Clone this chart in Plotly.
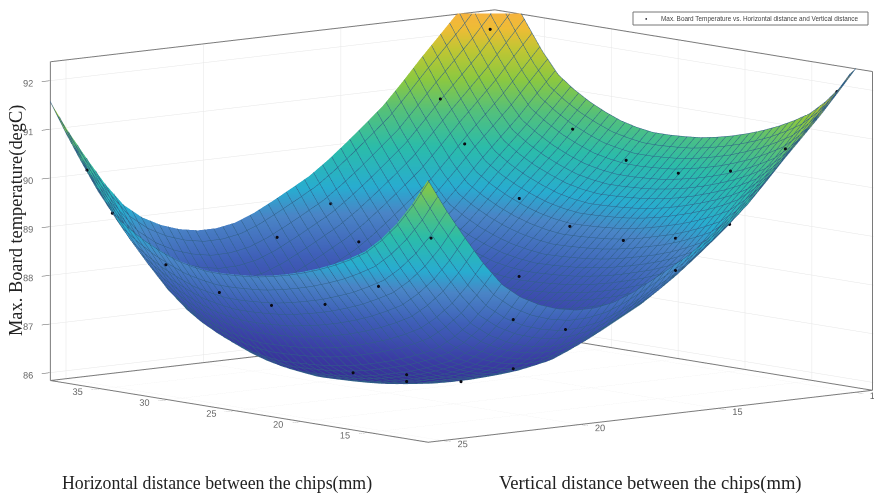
import plotly.graph_objects as go

horizontal_mm = [10.40, 11.58, 12.76, 13.94, 15.12, 16.30, 17.48, 18.65, 19.83, 21.01, 22.19, 23.37, 24.55,
                 25.73, 26.91, 28.09, 29.27, 30.45, 31.63, 32.80, 33.98, 35.16, 36.34, 37.52, 38.70]
vertical_mm = [25.60, 24.93, 24.25, 23.58, 22.90, 22.23, 21.55, 20.88, 20.20, 19.53, 18.85, 18.18, 17.50,
               16.83, 16.15, 15.48, 14.80, 14.13, 13.45, 12.78, 12.10, 11.43, 10.75, 10.08, 9.40]
# rows follow horizontal_mm, columns follow vertical_mm
board_temp = [
    [91.23, 90.56, 89.95, 89.38, 88.90, 88.60, 88.40, 88.27, 88.20, 88.20, 88.27, 88.42, 88.62, 88.83, 89.05, 89.33, 89.65, 89.98, 90.33, 90.75, 91.20, 91.62, 92.05, 92.52, 93.00],
    [90.68, 90.02, 89.43, 88.87, 88.40, 88.11, 87.91, 87.79, 87.72, 87.73, 87.80, 87.95, 88.15, 88.36, 88.58, 88.86, 89.17, 89.50, 89.84, 90.26, 90.70, 91.11, 91.53, 91.98, 92.45],
    [90.22, 89.58, 88.99, 88.44, 87.98, 87.70, 87.51, 87.39, 87.33, 87.34, 87.42, 87.57, 87.77, 87.98, 88.20, 88.47, 88.78, 89.10, 89.44, 89.85, 90.28, 90.68, 91.09, 91.54, 91.99],
    [89.85, 89.22, 88.64, 88.10, 87.65, 87.37, 87.19, 87.08, 87.02, 87.03, 87.11, 87.27, 87.47, 87.68, 87.89, 88.16, 88.47, 88.79, 89.12, 89.52, 89.95, 90.34, 90.74, 91.18, 91.62],
    [89.55, 88.93, 88.36, 87.83, 87.38, 87.11, 86.94, 86.83, 86.78, 86.79, 86.87, 87.03, 87.23, 87.44, 87.65, 87.92, 88.23, 88.54, 88.87, 89.26, 89.68, 90.07, 90.46, 90.89, 91.32],
    [89.35, 88.74, 88.18, 87.65, 87.21, 86.95, 86.78, 86.67, 86.63, 86.64, 86.72, 86.88, 87.08, 87.29, 87.50, 87.77, 88.08, 88.38, 88.71, 89.10, 89.51, 89.89, 90.28, 90.70, 91.12],
    [89.18, 88.57, 88.02, 87.50, 87.07, 86.81, 86.64, 86.54, 86.50, 86.52, 86.60, 86.76, 86.96, 87.17, 87.38, 87.65, 87.95, 88.25, 88.57, 88.96, 89.37, 89.74, 90.12, 90.53, 90.95],
    [89.04, 88.44, 87.89, 87.38, 86.95, 86.69, 86.53, 86.44, 86.39, 86.41, 86.50, 86.66, 86.86, 87.07, 87.28, 87.54, 87.84, 88.15, 88.46, 88.84, 89.25, 89.62, 89.99, 90.40, 90.81],
    [88.92, 88.32, 87.78, 87.27, 86.85, 86.60, 86.44, 86.34, 86.30, 86.32, 86.41, 86.57, 86.77, 86.98, 87.19, 87.45, 87.75, 88.05, 88.37, 88.75, 89.15, 89.51, 89.88, 90.28, 90.69],
    [88.82, 88.23, 87.69, 87.18, 86.76, 86.51, 86.36, 86.26, 86.22, 86.25, 86.33, 86.50, 86.70, 86.91, 87.11, 87.38, 87.67, 87.97, 88.29, 88.66, 89.06, 89.42, 89.79, 90.19, 90.59],
    [88.74, 88.15, 87.62, 87.11, 86.69, 86.44, 86.29, 86.20, 86.16, 86.18, 86.27, 86.43, 86.64, 86.84, 87.05, 87.31, 87.61, 87.91, 88.22, 88.59, 88.99, 89.35, 89.72, 90.11, 90.51],
    [88.68, 88.09, 87.56, 87.06, 86.64, 86.39, 86.24, 86.15, 86.11, 86.13, 86.22, 86.38, 86.59, 86.79, 87.00, 87.26, 87.56, 87.86, 88.17, 88.54, 88.94, 89.30, 89.66, 90.05, 90.45],
    [88.65, 88.06, 87.53, 87.03, 86.61, 86.36, 86.21, 86.12, 86.08, 86.11, 86.20, 86.36, 86.56, 86.77, 86.98, 87.24, 87.53, 87.83, 88.14, 88.51, 88.91, 89.27, 89.63, 90.02, 90.42],
    [88.63, 88.04, 87.51, 87.01, 86.59, 86.34, 86.19, 86.10, 86.06, 86.08, 86.17, 86.33, 86.54, 86.74, 86.95, 87.21, 87.51, 87.81, 88.12, 88.49, 88.89, 89.25, 89.61, 90.00, 90.40],
    [88.63, 88.04, 87.51, 87.00, 86.58, 86.33, 86.18, 86.09, 86.05, 86.07, 86.16, 86.32, 86.53, 86.73, 86.94, 87.20, 87.50, 87.80, 88.11, 88.48, 88.88, 89.24, 89.61, 90.00, 90.40],
    [88.68, 88.09, 87.55, 87.04, 86.62, 86.37, 86.22, 86.12, 86.08, 86.11, 86.19, 86.36, 86.56, 86.77, 86.97, 87.24, 87.53, 87.83, 88.15, 88.52, 88.92, 89.28, 89.65, 90.05, 90.45],
    [88.76, 88.16, 87.62, 87.11, 86.69, 86.44, 86.28, 86.18, 86.14, 86.16, 86.25, 86.41, 86.61, 86.82, 87.03, 87.29, 87.59, 87.89, 88.21, 88.59, 88.99, 89.35, 89.72, 90.12, 90.53],
    [88.89, 88.29, 87.74, 87.23, 86.80, 86.54, 86.38, 86.29, 86.24, 86.26, 86.35, 86.51, 86.71, 86.92, 87.13, 87.39, 87.69, 88.00, 88.31, 88.69, 89.10, 89.47, 89.84, 90.25, 90.66],
    [89.05, 88.44, 87.89, 87.37, 86.94, 86.68, 86.51, 86.41, 86.37, 86.39, 86.47, 86.63, 86.83, 87.04, 87.25, 87.52, 87.82, 88.12, 88.44, 88.83, 89.24, 89.61, 89.99, 90.40, 90.82],
    [89.25, 88.64, 88.08, 87.55, 87.11, 86.85, 86.68, 86.57, 86.53, 86.54, 86.62, 86.78, 86.98, 87.19, 87.40, 87.67, 87.98, 88.28, 88.61, 89.00, 89.41, 89.79, 90.18, 90.60, 91.02],
    [89.50, 88.88, 88.31, 87.78, 87.33, 87.06, 86.89, 86.78, 86.73, 86.74, 86.82, 86.98, 87.18, 87.39, 87.60, 87.87, 88.18, 88.49, 88.82, 89.21, 89.63, 90.02, 90.41, 90.84, 91.27],
    [89.93, 89.30, 88.72, 88.18, 87.73, 87.45, 87.27, 87.16, 87.10, 87.11, 87.19, 87.35, 87.55, 87.76, 87.97, 88.24, 88.55, 88.87, 89.20, 89.60, 90.03, 90.42, 90.82, 91.26, 91.70],
    [90.45, 89.80, 89.22, 88.67, 88.21, 87.93, 87.74, 87.62, 87.56, 87.57, 87.65, 87.80, 88.00, 88.21, 88.43, 88.70, 89.01, 89.33, 89.67, 90.08, 90.51, 90.91, 91.32, 91.77, 92.22],
    [91.00, 90.34, 89.75, 89.19, 88.72, 88.43, 88.23, 88.11, 88.04, 88.05, 88.12, 88.27, 88.47, 88.68, 88.90, 89.18, 89.49, 89.82, 90.16, 90.58, 91.02, 91.43, 91.85, 92.30, 92.77],
    [91.60, 90.93, 90.32, 89.75, 89.27, 88.97, 88.77, 88.64, 88.57, 88.57, 88.64, 88.79, 88.99, 89.20, 89.42, 89.70, 90.02, 90.35, 90.70, 91.12, 91.57, 91.99, 92.42, 92.89, 93.37],
]

dots_horizontal = [11.9, 13.7, 17.8, 21.7, 25.6, 29.6, 11.9, 17.8, 21.7, 25.7, 30.3, 35.0, 37.0, 36.2, 37.0, 37.1, 34.9,
                   11.2, 14.1, 18.1, 22.1, 26.0, 30.0, 34.0, 35.9, 16.0, 12.0, 12.0, 10.4, 10.4, 10.4, 10.4, 10.4, 26.0]
dots_vertical = [10.0, 11.0, 11.0, 11.0, 11.0, 11.0, 13.9, 13.0, 13.0, 13.0, 12.6, 12.3, 10.4, 12.6, 16.2, 18.1, 16.2,
                 25.1, 25.6, 25.6, 25.6, 25.6, 25.6, 25.6, 25.6, 25.6, 25.6, 25.6, 24.4, 22.5, 20.6, 16.6, 22.5, 14.7]
dots_temp = [91.95, 90.76, 90.12, 89.90, 89.99, 90.45, 89.48, 88.87, 88.65, 88.76, 89.10, 89.99, 92.13, 90.88, 88.93, 88.36, 88.24,
             89.97, 88.88, 88.33, 88.13, 88.22, 88.61, 89.49, 90.29, 87.02, 87.16, 87.02, 87.01, 87.15, 87.83, 88.78, 88.16, 87.83]

x_range = [10.4, 38.7]
y_range = [9.4, 25.6]
z_range = [85.83, 92.4]
x_ticks = [15, 20, 25, 30, 35]
y_ticks = [10, 15, 20, 25]
z_ticks = [86, 87, 88, 89, 90, 91, 92]

title_x = "Horizontal distance between the chips(mm)"
title_y = "Vertical distance between the chips(mm)"
title_z = "Max. Board temperature(degC)"
legend_name = "Max. Board Temperature vs. Horizontal distance and Vertical distance"

parula = [[0.0, "#35288e"], [0.16, "#3a3ba3"], [0.31, "#3f5fb8"], [0.42, "#4a85c6"], [0.49, "#28acd0"], [0.6, "#2bbcaa"],
          [0.7, "#55c07a"], [0.79, "#8cc840"], [0.87, "#c0c633"], [0.93, "#eebc35"], [1.0, "#fbae45"]]

def px(sx):
    return sx / 874

def py(sy):
    return 1 - sy / 494

fig = go.Figure()
fig.add_trace(go.Surface(
    x=horizontal_mm, y=vertical_mm, z=[list(c) for c in zip(*board_temp)],
    colorscale=parula, cmin=85.9, cmax=92.6, showscale=False,
    lighting=dict(ambient=1, diffuse=0, specular=0, roughness=1, fresnel=0),
    contours=dict(
        x=dict(show=True, start=x_range[0], end=x_range[1], size=0.58, color="#2f5f86", width=1),
        y=dict(show=True, start=y_range[0], end=y_range[1], size=0.33, color="#2f5f86", width=1),
    ),
    showlegend=False, hoverinfo="skip",
))
fig.add_trace(go.Scatter3d(
    x=dots_horizontal, y=dots_vertical, z=dots_temp, mode="markers",
    marker=dict(size=1.8, color="#0a0a14"), name=legend_name, showlegend=False,
))
# box edges, kept just inside the axis bounds so they are not clipped
xa, xb = x_range[0] + 0.03, x_range[1] - 0.03
ya, yb = y_range[0] + 0.02, y_range[1] - 0.02
za, zb = z_range[0] + 0.01, z_range[1] - 0.01
edges_x = [xa, xb, xb, None, xb, xb, None, xa, xa, None, xb, xa, xa, xb, xb]
edges_y = [ya, ya, yb, None, yb, yb, None, ya, ya, None, yb, yb, ya, ya, yb]
edges_z = [zb, zb, zb, None, za, zb, None, za, zb, None, za, za, za, za, za]
fig.add_trace(go.Scatter3d(
    x=edges_x, y=edges_y, z=edges_z, mode="lines",
    line=dict(color="#7a7a7a", width=2), showlegend=False, hoverinfo="skip",
))

axis_common = dict(
    showbackground=False, showline=False, zeroline=False, showspikes=False, title=dict(text=""),
    gridcolor="#e6e6e6", gridwidth=1, ticks="outside", ticklen=10, tickcolor="#555555", tickwidth=1,
    tickfont=dict(family="Liberation Sans", size=10.5, color="#666666"), tickmode="array", tickangle=0,
)
fig.update_layout(
    width=874, height=494, autosize=False, paper_bgcolor="white", margin=dict(l=0, r=0, t=0, b=0),
    font=dict(family="Liberation Sans"),
    scene=dict(
        domain=dict(x=[0, 1], y=[0, 1]),
        xaxis=dict(axis_common, range=x_range, tickvals=x_ticks),
        yaxis=dict(axis_common, range=y_range, tickvals=y_ticks),
        zaxis=dict(axis_common, range=z_range, tickvals=z_ticks),
        aspectmode="manual", aspectratio=dict(x=2.373, y=2.362, z=1.307),
        camera=dict(projection=dict(type="orthographic"), center=dict(x=0.0545, y=0.0835, z=-0.084),
                    up=dict(x=0, y=0, z=1), eye=dict(x=-4.4855, y=3.9235, z=0.746)),
    ),
    showlegend=False,
    shapes=[dict(type="rect", xref="paper", yref="paper", x0=px(633), x1=px(868), y0=py(25), y1=py(12),
                 line=dict(color="#777777", width=1), fillcolor="white")],
    annotations=[
        dict(text="●", x=px(646), y=py(18.5), xref="paper", yref="paper", showarrow=False,
             xanchor="center", yanchor="middle", font=dict(size=4, color="#0a0a14")),
        dict(text=legend_name, x=px(659), y=py(18.5), xref="paper", yref="paper", showarrow=False,
             xanchor="left", yanchor="middle", font=dict(size=6.4, color="#444444", family="Liberation Sans")),
        dict(text=title_x, x=px(217), y=py(483), xref="paper", yref="paper", showarrow=False,
             xanchor="center", yanchor="middle", font=dict(family="Liberation Serif", size=17.8, color="#222222")),
        dict(text=title_y, x=px(650.5), y=py(483), xref="paper", yref="paper", showarrow=False,
             xanchor="center", yanchor="middle", font=dict(family="Liberation Serif", size=18.6, color="#222222")),
        dict(text=title_z, x=px(16), y=py(221), xref="paper", yref="paper", showarrow=False, textangle=-90,
             xanchor="center", yanchor="middle", font=dict(family="Liberation Serif", size=18.4, color="#222222")),
    ],
)
fig.write_html("out.html", post_script="document.body.style.margin='0';", config={"displayModeBar": False})
